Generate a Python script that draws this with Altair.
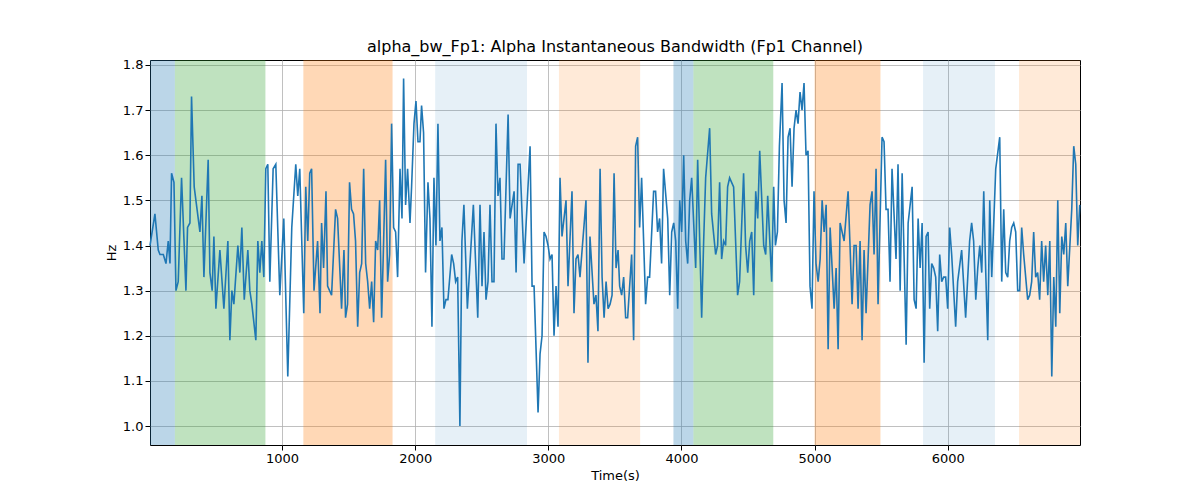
import altair as alt
import pandas as pd

# line samples: time (s) and bandwidth (Hz)
t = [8, 45, 70, 83, 108, 128, 145, 158, 170, 188, 203, 220, 245, 278, 290, 308, 320, 340, 383, 398,
     413, 445, 458, 475, 488, 503, 533, 563, 593, 608, 623, 638, 668, 683, 698, 716, 743, 758, 773, 803,
     818, 833, 848, 863, 878, 893, 908, 933, 953, 983, 1013, 1043, 1073, 1103, 1118, 1133, 1163, 1178, 1193, 1208,
     1222, 1240, 1267, 1285, 1297, 1312, 1330, 1342, 1372, 1402, 1417, 1447, 1465, 1477, 1492, 1507, 1522, 1537, 1552, 1568,
     1583, 1598, 1613, 1628, 1643, 1658, 1673, 1688, 1703, 1718, 1733, 1748, 1763, 1778, 1793, 1808, 1823, 1838, 1853, 1868,
     1886, 1901, 1913, 1928, 1943, 1961, 1973, 1991, 2006, 2021, 2036, 2048, 2063, 2078, 2096, 2111, 2126, 2141, 2156, 2171,
     2186, 2201, 2216, 2231, 2246, 2274, 2289, 2304, 2319, 2336, 2351, 2366, 2392, 2437, 2470, 2487, 2502, 2517, 2532, 2547,
     2562, 2577, 2592, 2607, 2622, 2637, 2652, 2667, 2698, 2713, 2743, 2758, 2773, 2788, 2818, 2863, 2878, 2893, 2923, 2938,
     2953, 2968, 2983, 2998, 3013, 3028, 3043, 3058, 3073, 3088, 3103, 3133, 3148, 3178, 3193, 3208, 3223, 3238, 3283, 3298,
     3313, 3343, 3358, 3373, 3389, 3404, 3419, 3434, 3449, 3464, 3479, 3494, 3509, 3524, 3536, 3551, 3566, 3581, 3596, 3626,
     3641, 3656, 3671, 3686, 3701, 3731, 3746, 3761, 3791, 3806, 3821, 3836, 3851, 3866, 3897, 3912, 3927, 3942, 3957, 3972,
     3987, 4002, 4017, 4032, 4047, 4062, 4077, 4107, 4122, 4152, 4167, 4182, 4212, 4227, 4257, 4272, 4287, 4302, 4317, 4332,
     4347, 4362, 4392, 4422, 4437, 4467, 4482, 4498, 4513, 4528, 4543, 4558, 4573, 4588, 4618, 4633, 4648, 4678, 4693, 4706,
     4721, 4736, 4756, 4771, 4786, 4801, 4816, 4831, 4846, 4861, 4876, 4891, 4906, 4921, 4936, 4951, 4966, 4981, 4996, 5011,
     5027, 5042, 5057, 5072, 5087, 5102, 5117, 5147, 5162, 5177, 5192, 5222, 5252, 5282, 5297, 5312, 5327, 5342, 5357, 5372,
     5387, 5417, 5432, 5447, 5462, 5477, 5507, 5522, 5537, 5552, 5567, 5582, 5612, 5627, 5643, 5658, 5688, 5703, 5733, 5748,
     5763, 5778, 5793, 5808, 5823, 5838, 5853, 5865, 5880, 5895, 5910, 5925, 5940, 5955, 5970, 5985, 6000, 6015, 6030, 6060,
     6075, 6105, 6135, 6165, 6180, 6195, 6211, 6226, 6241, 6256, 6271, 6286, 6301, 6316, 6331, 6361, 6391, 6406, 6421, 6436,
     6451, 6466, 6481, 6496, 6511, 6526, 6541, 6556, 6571, 6601, 6616, 6631, 6646, 6661, 6676, 6691, 6706, 6721, 6736, 6752,
     6767, 6782, 6797, 6812, 6827, 6842, 6857, 6872, 6887, 6902, 6932, 6947, 6962, 6977, 6992]
hz = [1.40, 1.47, 1.39, 1.38, 1.38, 1.36, 1.41, 1.36, 1.56, 1.54, 1.30, 1.32, 1.55, 1.30, 1.44, 1.45, 1.73, 1.53, 1.43, 1.51,
      1.33, 1.59, 1.34, 1.30, 1.42, 1.26, 1.39, 1.26, 1.41, 1.19, 1.30, 1.27, 1.40, 1.34, 1.44, 1.28, 1.39, 1.30, 1.27, 1.19,
      1.41, 1.34, 1.41, 1.33, 1.57, 1.58, 1.32, 1.57, 1.58, 1.29, 1.46, 1.11, 1.44, 1.58, 1.51, 1.57, 1.25, 1.53, 1.41, 1.56,
      1.57, 1.30, 1.41, 1.25, 1.45, 1.35, 1.52, 1.31, 1.29, 1.48, 1.46, 1.26, 1.39, 1.24, 1.27, 1.54, 1.48, 1.47, 1.41, 1.22,
      1.34, 1.36, 1.57, 1.36, 1.32, 1.26, 1.32, 1.23, 1.41, 1.39, 1.50, 1.24, 1.41, 1.59, 1.32, 1.38, 1.67, 1.44, 1.43, 1.33,
      1.57, 1.46, 1.77, 1.49, 1.57, 1.45, 1.53, 1.67, 1.72, 1.63, 1.63, 1.71, 1.65, 1.34, 1.54, 1.46, 1.22, 1.55, 1.40, 1.67,
      1.41, 1.44, 1.26, 1.28, 1.28, 1.38, 1.36, 1.32, 1.33, 1.00, 1.41, 1.49, 1.26, 1.49, 1.24, 1.49, 1.31, 1.43, 1.28, 1.32,
      1.49, 1.32, 1.32, 1.67, 1.51, 1.55, 1.37, 1.37, 1.69, 1.46, 1.52, 1.34, 1.58, 1.58, 1.36, 1.62, 1.31, 1.31, 1.03, 1.16,
      1.20, 1.43, 1.42, 1.40, 1.37, 1.38, 1.20, 1.31, 1.22, 1.55, 1.42, 1.50, 1.31, 1.52, 1.25, 1.37, 1.38, 1.33, 1.50, 1.14,
      1.42, 1.27, 1.29, 1.21, 1.57, 1.33, 1.24, 1.32, 1.26, 1.27, 1.29, 1.56, 1.35, 1.39, 1.31, 1.29, 1.33, 1.24, 1.24, 1.38,
      1.19, 1.62, 1.64, 1.44, 1.55, 1.27, 1.33, 1.33, 1.52, 1.52, 1.43, 1.46, 1.36, 1.57, 1.46, 1.29, 1.43, 1.45, 1.41, 1.26,
      1.50, 1.43, 1.60, 1.41, 1.36, 1.50, 1.55, 1.35, 1.59, 1.24, 1.41, 1.55, 1.66, 1.47, 1.38, 1.40, 1.54, 1.37, 1.41, 1.40,
      1.53, 1.55, 1.53, 1.29, 1.32, 1.56, 1.40, 1.34, 1.41, 1.43, 1.29, 1.52, 1.46, 1.61, 1.40, 1.38, 1.51, 1.32, 1.53, 1.40,
      1.43, 1.62, 1.76, 1.50, 1.45, 1.64, 1.66, 1.53, 1.66, 1.70, 1.67, 1.74, 1.70, 1.76, 1.60, 1.61, 1.31, 1.26, 1.52, 1.36,
      1.32, 1.37, 1.50, 1.43, 1.49, 1.17, 1.44, 1.26, 1.35, 1.17, 1.45, 1.41, 1.52, 1.27, 1.40, 1.40, 1.26, 1.41, 1.19, 1.39,
      1.25, 1.49, 1.52, 1.38, 1.57, 1.27, 1.64, 1.63, 1.48, 1.48, 1.32, 1.57, 1.37, 1.58, 1.30, 1.56, 1.18, 1.45, 1.53, 1.28,
      1.26, 1.46, 1.35, 1.45, 1.14, 1.42, 1.43, 1.26, 1.36, 1.35, 1.33, 1.21, 1.38, 1.32, 1.33, 1.33, 1.26, 1.44, 1.38, 1.22,
      1.32, 1.39, 1.24, 1.41, 1.45, 1.41, 1.28, 1.35, 1.40, 1.34, 1.52, 1.34, 1.19, 1.50, 1.33, 1.57, 1.64, 1.32, 1.48, 1.34,
      1.33, 1.41, 1.44, 1.45, 1.43, 1.30, 1.30, 1.44, 1.38, 1.28, 1.29, 1.32, 1.43, 1.33, 1.34, 1.28, 1.41, 1.32, 1.40, 1.29,
      1.41, 1.11, 1.33, 1.22, 1.50, 1.25, 1.42, 1.38, 1.45, 1.31, 1.48, 1.62, 1.58, 1.40, 1.49]

# shaded stages
band_start = [8, 195, 1160, 2150, 3080, 3940, 4090, 5000, 5815, 6536]
band_end = [195, 875, 1830, 2840, 3690, 4090, 4690, 5495, 6355, 6994]
band_color = ["#1f77b4", "#2ca02c", "#ff7f0e", "#1f77b4", "#ff7f0e",
              "#1f77b4", "#2ca02c", "#ff7f0e", "#1f77b4", "#ff7f0e"]
band_alpha = [0.3, 0.3, 0.3, 0.11, 0.16, 0.3, 0.3, 0.3, 0.11, 0.16]

line_df = pd.DataFrame({"t": t, "hz": hz})
band_df = pd.DataFrame({"start": band_start, "end": band_end,
                        "color": band_color, "alpha": band_alpha})

xscale = alt.Scale(domain=[8, 6994], nice=False, zero=False)
yscale = alt.Scale(domain=[0.958, 1.811], nice=False, zero=False)

bands = alt.Chart(band_df).mark_rect().encode(
    x=alt.X("start:Q", scale=xscale),
    x2="end:Q",
    color=alt.Color("color:N", scale=None),
    opacity=alt.Opacity("alpha:Q", scale=None),
)

line = alt.Chart(line_df).mark_line(color="#1f77b4", strokeWidth=1.6).encode(
    x=alt.X("t:Q", scale=xscale, title="Time(s)",
            axis=alt.Axis(values=[1000, 2000, 3000, 4000, 5000, 6000], format="d")),
    y=alt.Y("hz:Q", scale=yscale, title="Hz",
            axis=alt.Axis(values=[1.0, 1.1, 1.2, 1.3, 1.4, 1.5, 1.6, 1.7, 1.8], format=".1f")),
)

chart = (bands + line).properties(
    width=930, height=385,
    title="alpha_bw_Fp1: Alpha Instantaneous Bandwidth (Fp1 Channel)",
    padding={"left": 97, "top": 30, "right": 5, "bottom": 5},
).configure_view(stroke="black", strokeWidth=1).configure_axis(
    grid=True, gridColor="#b0b0b0", gridOpacity=1, gridWidth=0.8, domain=False,
    labelFontSize=13, titleFontSize=13, labelColor="black", titleColor="black",
    tickColor="black", labelFont="DejaVu Sans", titleFont="DejaVu Sans",
    titleFontWeight="normal",
).configure_title(fontSize=16, font="DejaVu Sans", fontWeight="normal")

chart.save("out.html", embed_options={"renderer": "svg", "actions": False})
